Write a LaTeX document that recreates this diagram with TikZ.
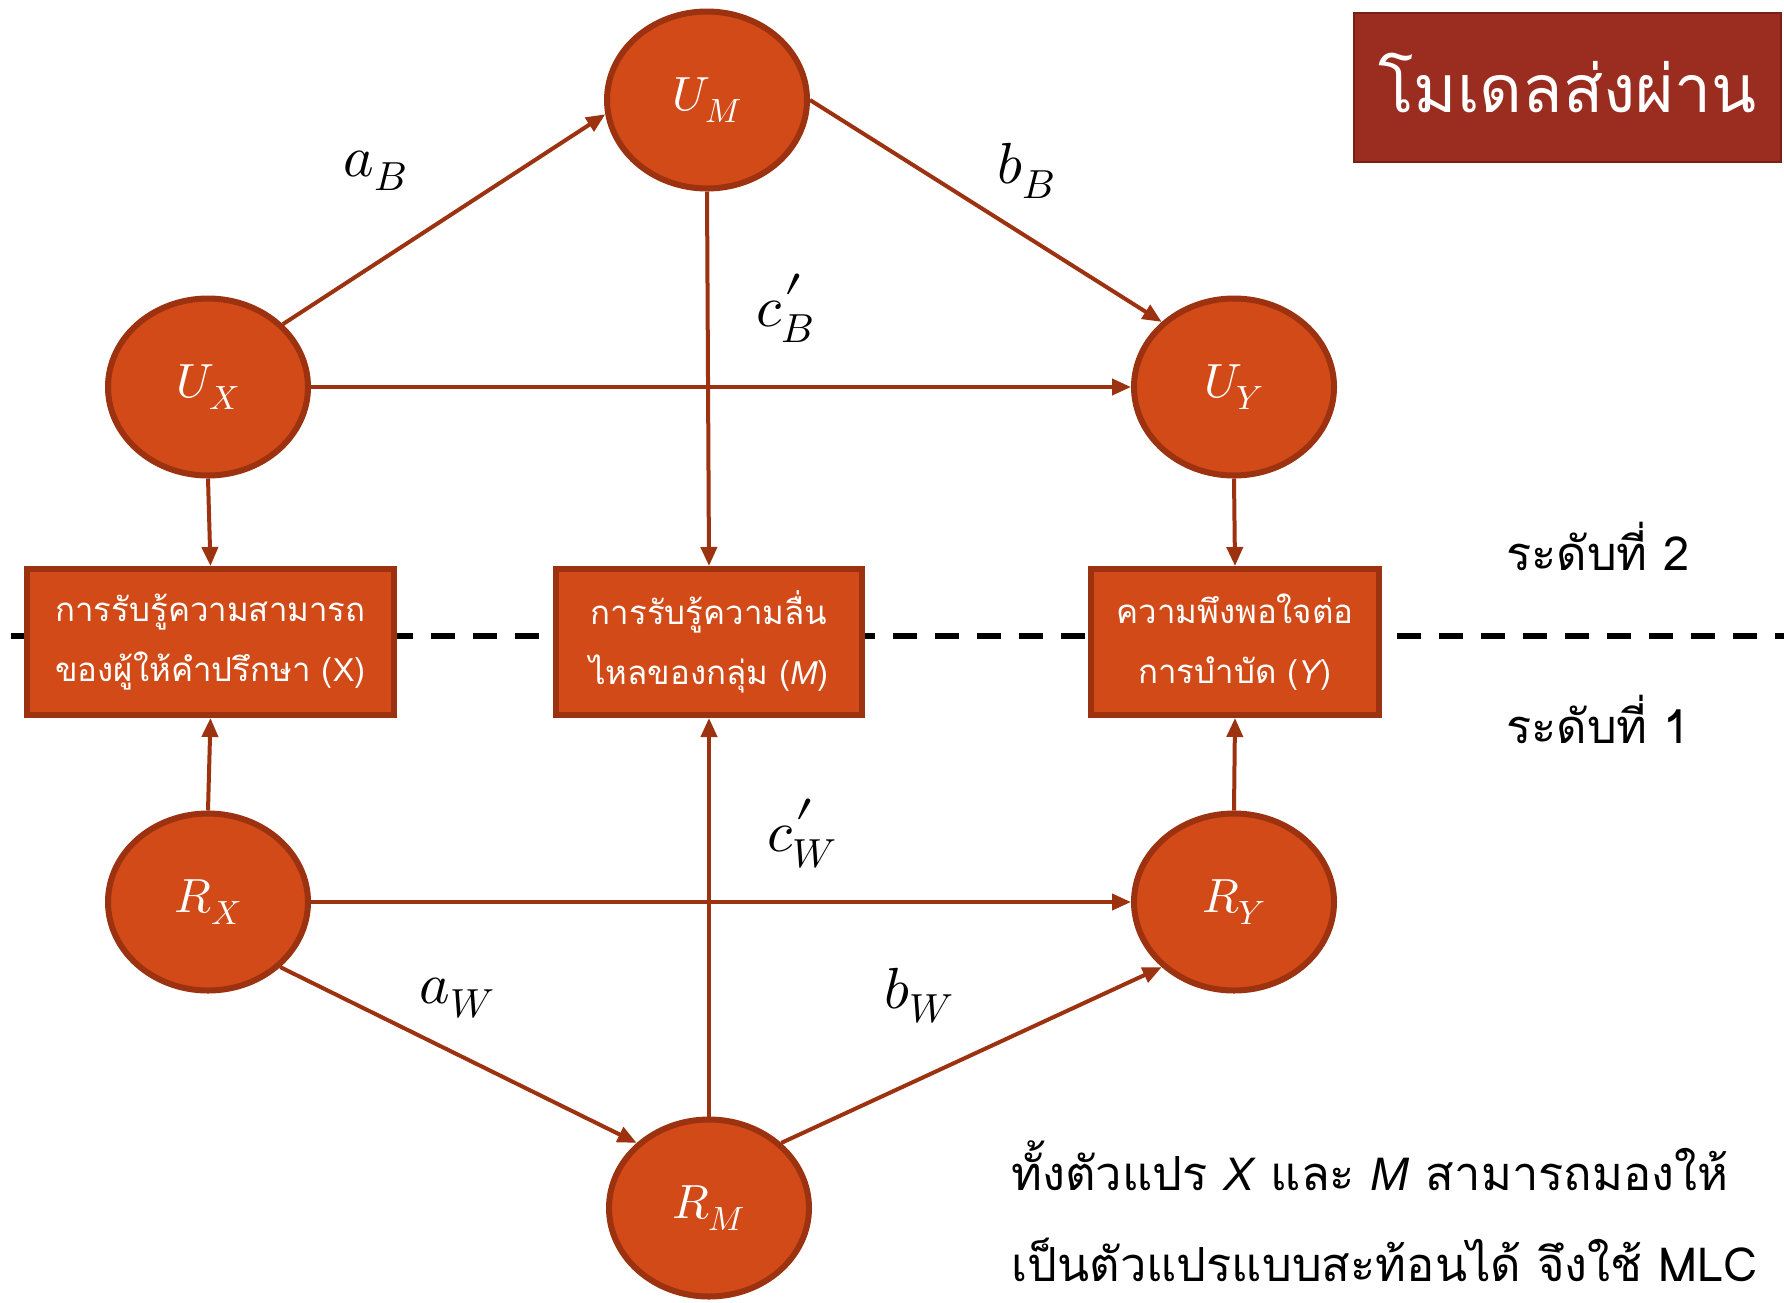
\documentclass[tikz,border=0pt]{standalone}
\usepackage{fontspec}
\usepackage{unicode-math}
\setmathfont{Latin Modern Math}
\usetikzlibrary{shapes.geometric,arrows.meta}
\newfontfamily\thaifont[Script=Thai]{Loma}
\newfontfamily\latfont{Liberation Sans}
\definecolor{nodefill}{RGB}{209,74,24}
\definecolor{nodeedge}{RGB}{156,50,16}
\definecolor{titlefill}{RGB}{155,45,32}
\definecolor{titleedge}{RGB}{120,32,22}
\newcommand{\bigprime}{\smash{\hspace{1pt}\raisebox{-17pt}{\scalebox{1.6}{$\scriptstyle\prime$}}}}
\begin{document}
\begin{tikzpicture}[x=1pt,y=-1pt,
 ell/.style={ellipse,draw=nodeedge,fill=nodefill,line width=6pt,minimum width=200pt,minimum height=177pt,text=white,font=\fontsize{48}{58}\selectfont,inner sep=0pt},
 bx/.style={rectangle,draw=nodeedge,fill=nodefill,line width=6pt,text=white,align=center,font=\thaifont\fontsize{33}{60}\selectfont,inner sep=0pt,minimum height=146pt},
 arr/.style={draw=nodeedge,line width=4pt,-{Triangle[length=19pt,width=16pt]}},
 lbl/.style={font=\fontsize{58}{66}\selectfont},
 lvl/.style={font=\thaifont\fontsize{47}{50}\selectfont,text=black},
 note/.style={font=\thaifont\fontsize{47}{91}\selectfont,text=black,align=left,anchor=west}
]
\useasboundingbox (0,0) rectangle (1784,1302);
\fill[white] (0,0) rectangle (1784,1302);

% dashed level separator
\draw[black,line width=6pt,dash pattern=on 24pt off 18pt] (11,636) -- (1784,636);

% ellipses
\node[ell] (UM) at (707,100) {$U_M$};
\node[ell] (UX) at (208,387) {$U_X$};
\node[ell] (UY) at (1234,387) {$U_Y$};
\node[ell] (RX) at (208,902) {$R_X$};
\node[ell] (RY) at (1234,902) {$R_Y$};
\node[ell] (RM) at (709,1208) {$R_M$};

% boxes
\node[bx,minimum width=367pt] (Xb) at (210.5,642) {การรับรู้ความสามารถ\\ของผู้ให้คำปรึกษา ({\latfont X})};
\node[bx,minimum width=306pt] (Mb) at (709,642) {การรับรู้ความลื่น\\ไหลของกลุ่ม ({\latfont\itshape M})};
\node[bx,minimum width=288pt] (Yb) at (1235,642) {ความพึงพอใจต่อ\\การบำบัด ({\latfont\itshape Y})};

% title
\node[rectangle,fill=titlefill,draw=titleedge,line width=2pt,minimum width=427pt,minimum height=149pt,text=white,font=\thaifont\fontsize{66}{70}\selectfont] (T) at (1567.5,87.5) {\raisebox{10pt}{โมเดลส่งผ่าน}};

% level labels
\node[lvl] (L2) at (1598,546) {ระดับที่ 2};
\node[lvl] (L1) at (1598,719) {ระดับที่ 1};

% note
\node[note] (N) at (1008,1211) {ทั้งตัวแปร {\latfont\itshape X} และ {\latfont\itshape M} สามารถมองให้\\เป็นตัวแปรแบบสะท้อนได้ จึงใช้ MLC};

% arrows
\draw[arr] (UX.40) -- (UM.188);
\draw[arr] (UM.0) -- (UY.138);
\draw[arr] (UM.south) -- (Mb.north);
\draw[arr] (UX.east) -- (UY.west);
\draw[arr] (UX.south) -- (Xb.north);
\draw[arr] (UY.south) -- (Yb.north);
\draw[arr] (RX.north) -- (Xb.south);
\draw[arr] (RY.north) -- (Yb.south);
\draw[arr] (RM.north) -- (Mb.south);
\draw[arr] (RX.east) -- (RY.west);
\draw[arr] (RX.-42) -- (RM.138);
\draw[arr] (RM.42) -- (RY.-138);

% path labels
\node[lbl] (aB) at (375,171) {$a_B$};
\node[lbl] (bB) at (1026,171) {$b_B$};
\node[lbl] (cB) at (785,322) {$c_B^{\bigprime}$};
\node[lbl] (cW) at (802,847) {$c_W^{\bigprime}$};
\node[lbl] (aW) at (457,998) {$a_W$};
\node[lbl] (bW) at (919,996) {$b_W$};
\end{tikzpicture}
\end{document}
